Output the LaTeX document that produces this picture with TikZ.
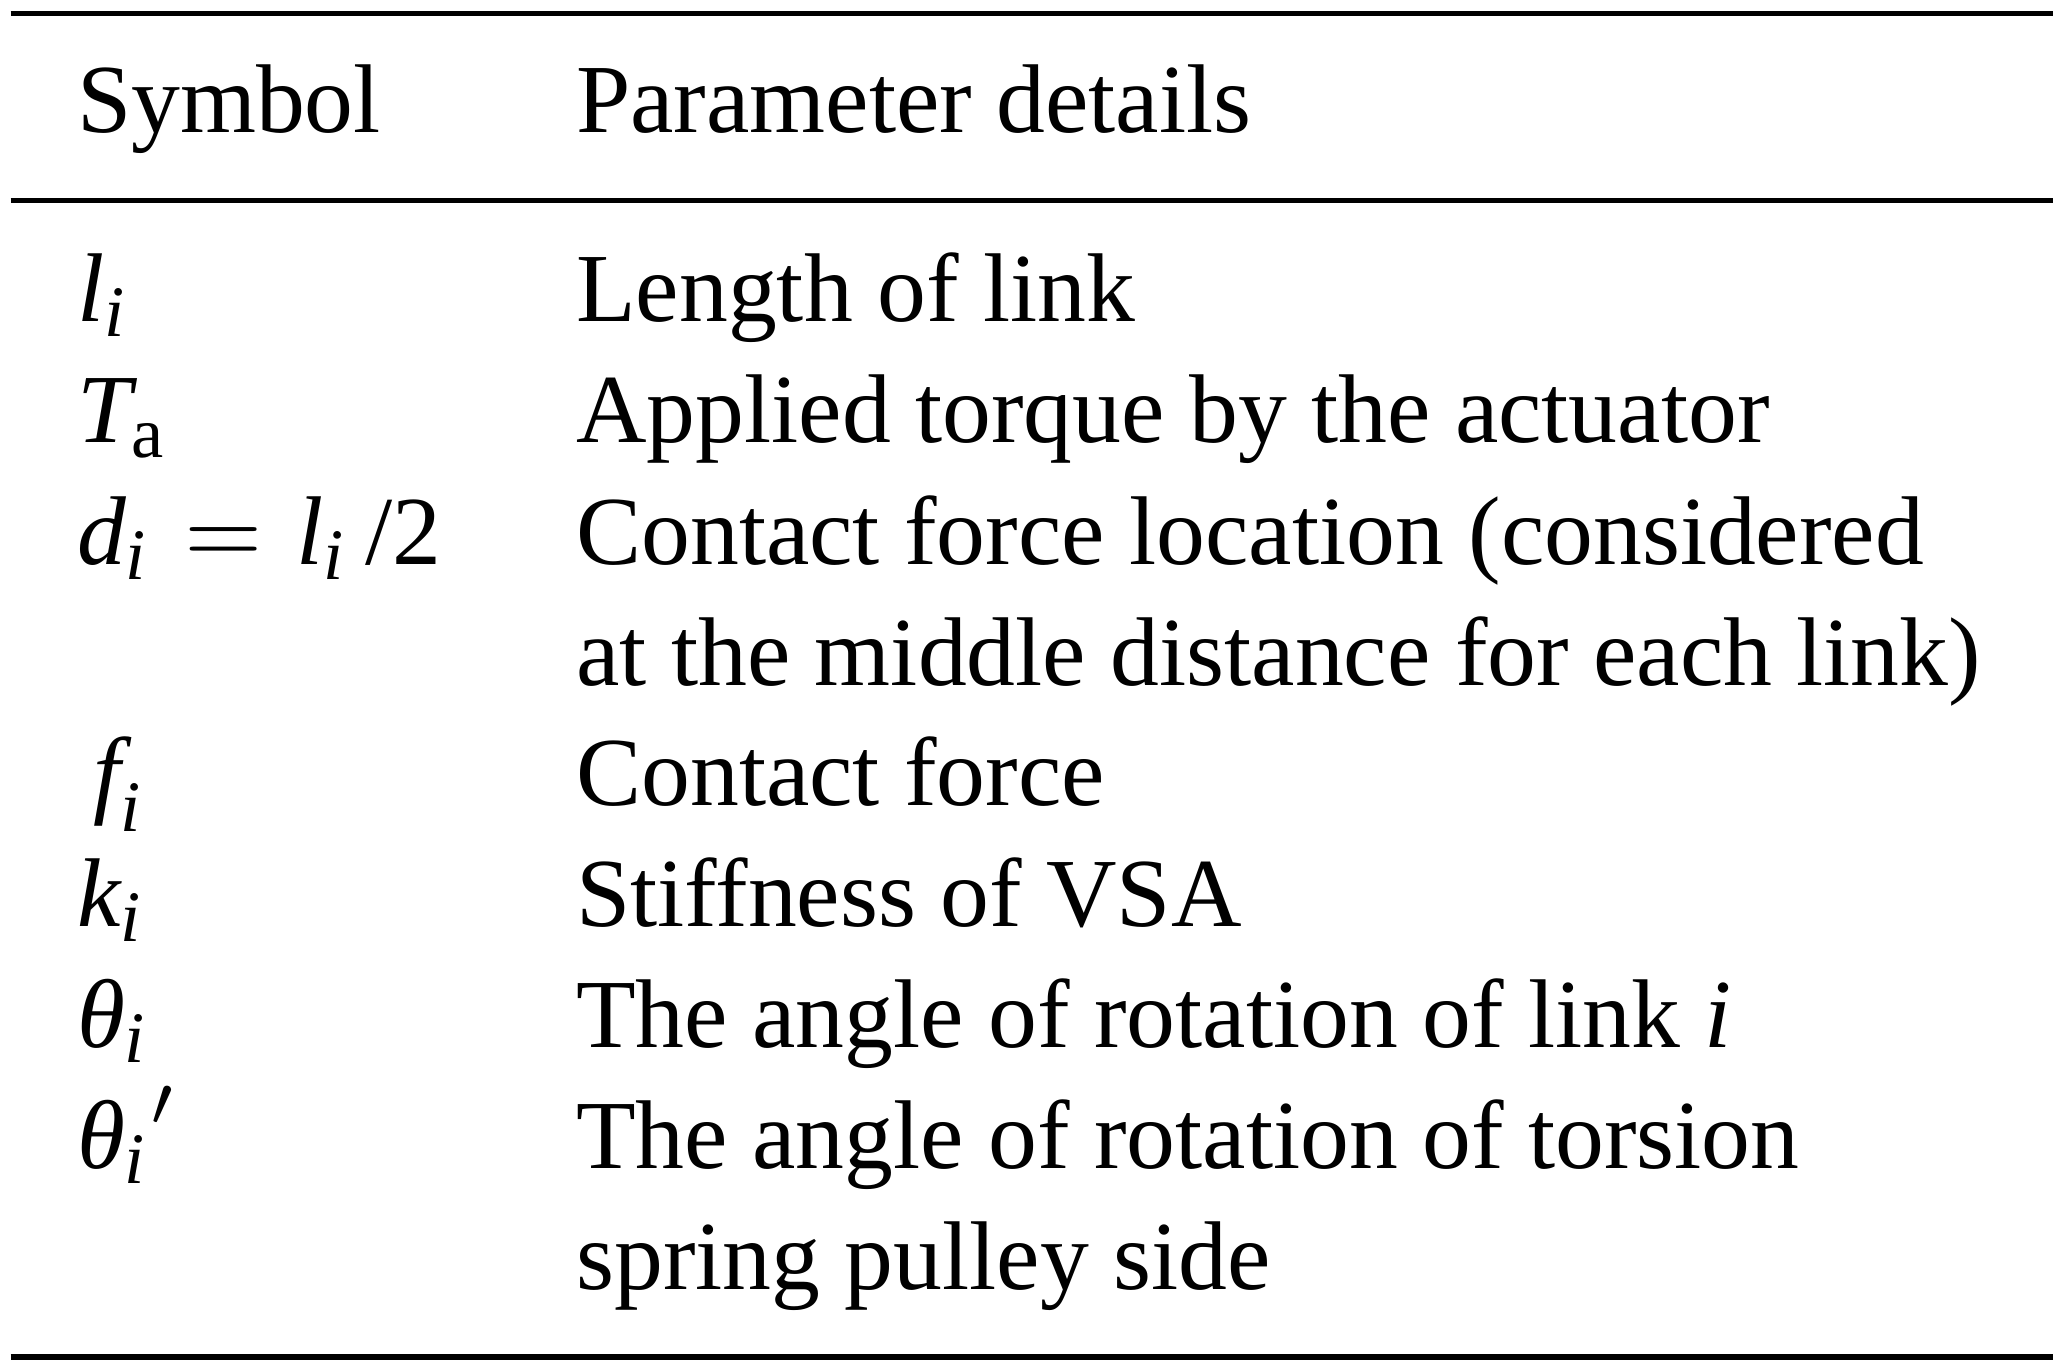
\documentclass[tikz,border=0pt]{standalone}
\usepackage{amsmath}
\usepackage{fontspec}
\setmainfont{Liberation Serif}
\DeclareMathSizes{9.7}{9.7}{7.2}{5.5}
\newcommand{\mvar}[1]{\textit{#1}}
\begin{document}
\begin{tikzpicture}[x=0.1319pt,y=-0.1319pt,
  txt/.style={anchor=base west,inner sep=0pt,outer sep=0pt,font=\fontsize{9.7}{11.6}\selectfont},
  tablerule/.style={line width=0.5pt}]
\useasboundingbox (0,0) rectangle (1556,1033);
\draw[tablerule] (8,10) -- (1546,10);
\draw[tablerule] (8,151) -- (1546,151);
\draw[tablerule] (8,1022) -- (1546,1022);
\node[txt] (h1) at (58,100) {Symbol};
\node[txt] (h2) at (434,100) {Parameter details};
\node[txt] (s1) at (58,242) {$\mvar{l}_{\mvar{i}}$};
\node[txt] (d1) at (434,242) {Length of link};
\node[txt] (s2) at (58,333) {$\mvar{T}_{\text{a}}$};
\node[txt] (d2) at (434,333) {Applied torque by the actuator};
\node[txt] (s3) at (58,425) {$\mvar{d}_{\mvar{i}}\mathrel{\mkern1mu=\mkern1mu}\mvar{l}_{\mvar{i}}\,\text{/2}$};
\node[txt] (d3) at (434,425) {Contact force location (considered};
\node[txt] (d3b) at (434,516) {at the middle distance for each link)};
\node[txt] (s4) at (58,607) {$\,\mvar{f}_{\mvar{i}}$};
\node[txt] (d4) at (434,607) {Contact force};
\node[txt] (s5) at (58,698) {$\mvar{k}_{\mvar{i}}$};
\node[txt] (d5) at (434,698) {Stiffness of VSA};
\node[txt] (s6) at (58,789) {$\mvar{θ}_{\mvar{i}}$};
\node[txt] (d6) at (434,789) {The angle of rotation of link \mvar{i}};
\node[txt] (s7) at (58,880) {${\mvar{θ}_{\mvar{i}}}'$};
\node[txt] (d7) at (434,880) {The angle of rotation of torsion};
\node[txt] (d7b) at (434,971) {spring pulley side};
\end{tikzpicture}
\end{document}
